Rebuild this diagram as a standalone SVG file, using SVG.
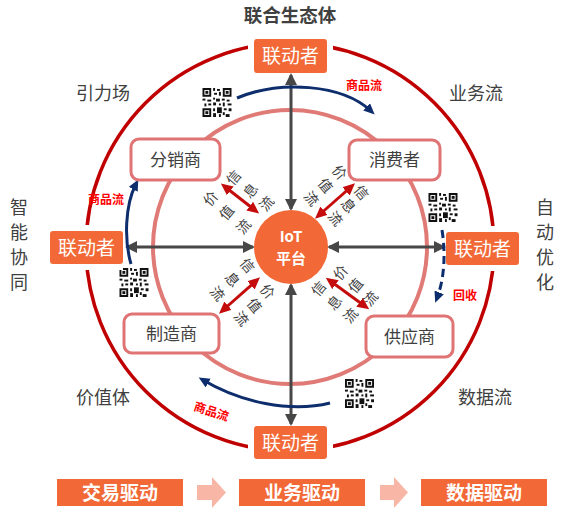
<svg xmlns="http://www.w3.org/2000/svg" width="562" height="513" viewBox="0 0 562 513">
<defs>
<style>
.cjk{font-family:"Noto Sans CJK SC","Noto Sans",sans-serif}
.lbl{font-family:"Noto Sans CJK SC","Noto Sans",sans-serif;font-size:18px;fill:#404040}
.lk rect.bg{fill:#F26836;rx:3}
.lk text{font-family:"Noto Sans CJK SC",sans-serif;font-size:19px;fill:#fff;text-anchor:middle}
.nd rect{fill:#fff;stroke:#E07474;stroke-width:3}
.nd text{font-family:"Noto Sans CJK SC",sans-serif;font-size:17px;fill:#404040;text-anchor:middle}
.flow{font-family:"Noto Sans CJK SC",sans-serif;font-size:14px;fill:#404040;text-anchor:middle;dominant-baseline:central}
.red{font-family:"Noto Sans CJK SC",sans-serif;font-size:12px;font-weight:bold;fill:#FF0000}
.gray{stroke:#474747;stroke-width:3;fill:none;marker-start:url(#ga);marker-end:url(#ga)}
.navy{stroke:#0D2D6C;stroke-width:3;fill:none;marker-end:url(#na)}
.dred{stroke:#C40C0C;stroke-width:3;fill:none;marker-start:url(#ra);marker-end:url(#ra)}
.bt rect{fill:#F26836}
.bt text{font-family:"Noto Sans CJK SC",sans-serif;font-size:19px;font-weight:bold;fill:#fff;text-anchor:middle}
</style>
<marker id="ga" markerUnits="userSpaceOnUse" markerWidth="14" markerHeight="14" refX="10" refY="6" orient="auto-start-reverse"><path d="M0,0 L12,6 L0,12 Z" fill="#474747"/></marker>
<marker id="na" markerUnits="userSpaceOnUse" markerWidth="14" markerHeight="14" refX="6" refY="5" orient="auto"><path d="M0,0 L11,5 L0,10 Z" fill="#0D2D6C"/></marker>
<marker id="ra" markerUnits="userSpaceOnUse" markerWidth="14" markerHeight="14" refX="8" refY="5.5" orient="auto-start-reverse"><path d="M0,0 L12,5.5 L0,11 Z" fill="#C40C0C"/></marker>
<symbol id="qr" viewBox="0 0 30 30">
<rect width="30" height="30" fill="#fff"/>
<g fill="#111">
<path d="M0,0h9v9h-9z M2,2v5h5v-5z" fill-rule="evenodd"/><rect x="3" y="3" width="3" height="3"/>
<path d="M21,0h9v9h-9z M23,2v5h5v-5z" fill-rule="evenodd"/><rect x="24" y="3" width="3" height="3"/>
<path d="M0,21h9v9h-9z M2,23v5h5v-5z" fill-rule="evenodd"/><rect x="3" y="24" width="3" height="3"/>
<rect x="11" y="0" width="2" height="3"/><rect x="15" y="1" width="3" height="2"/><rect x="12" y="5" width="3" height="2"/><rect x="17" y="4" width="2" height="4"/>
<rect x="0" y="11" width="3" height="2"/><rect x="5" y="12" width="4" height="2"/><rect x="2" y="16" width="2" height="3"/><rect x="6" y="16" width="3" height="2"/>
<rect x="11" y="10" width="2" height="2"/><rect x="14" y="11" width="4" height="3"/><rect x="20" y="11" width="3" height="2"/><rect x="25" y="12" width="3" height="2"/>
<rect x="11" y="15" width="3" height="3"/><rect x="17" y="16" width="2" height="2"/><rect x="21" y="15" width="2" height="4"/><rect x="26" y="16" width="4" height="2"/>
<rect x="11" y="21" width="2" height="3"/><rect x="15" y="20" width="5" height="6"/><rect x="22" y="21" width="3" height="2"/><rect x="27" y="21" width="3" height="3"/>
<rect x="11" y="26" width="3" height="4"/><rect x="21" y="25" width="2" height="3"/><rect x="24" y="27" width="4" height="3"/><rect x="17" y="27" width="2" height="3"/>
</g>
</symbol>
</defs>
<rect width="562" height="513" fill="#fff"/>

<!-- circles -->
<circle cx="290" cy="247" r="204" fill="none" stroke="#C00000" stroke-width="3.5"/>
<circle cx="290" cy="247" r="137" fill="none" stroke="#E07A76" stroke-width="4"/>

<!-- outer labels -->
<text x="290" y="22" class="cjk" font-size="18.5" font-weight="bold" fill="#404040" text-anchor="middle">联合生态体</text>
<text x="103" y="100" class="lbl" text-anchor="middle">引力场</text>
<text x="476" y="100" class="lbl" text-anchor="middle">业务流</text>
<text x="103" y="404" class="lbl" text-anchor="middle">价值体</text>
<text x="485" y="404" class="lbl" text-anchor="middle">数据流</text>
<g class="lbl" text-anchor="middle" font-size="17">
<text x="19" y="214">智</text><text x="19" y="239">能</text><text x="19" y="264">协</text><text x="19" y="289">同</text>
<text x="545" y="214">自</text><text x="545" y="239">动</text><text x="545" y="264">优</text><text x="545" y="289">化</text>
</g>

<!-- connectors -->
<g id="connectors">
<line class="gray" x1="291" y1="75" x2="291" y2="209"/>
<line class="gray" x1="291" y1="285" x2="291" y2="424"/>
<line class="gray" x1="127" y1="247" x2="253" y2="247"/>
<line class="gray" x1="329" y1="247" x2="444" y2="247"/>
<path class="navy" d="M237,98 C280,80 342,84 371,111"/>
<path class="navy" d="M131,264 C124,240 125,205 136,184"/>
<path class="navy" d="M442,230 C446,255 444,280 437,298" stroke-dasharray="8,5"/>
<path class="navy" d="M330,403 C290,413 240,402 203,380"/>
<line class="dred" x1="224" y1="186" x2="256" y2="211"/>
<line class="dred" x1="318" y1="216" x2="352" y2="186"/>
<line class="dred" x1="257" y1="280" x2="222" y2="311"/>
<line class="dred" x1="329" y1="280" x2="366" y2="307"/>
</g>

<!-- flow labels -->
<g class="flow">
<text transform="translate(233,177) rotate(-50)">信</text>
<text transform="translate(250,190) rotate(-50)">息</text>
<text transform="translate(266,203) rotate(-50)">流</text>
<text transform="translate(210,198) rotate(-50)">价</text>
<text transform="translate(226,212) rotate(-50)">值</text>
<text transform="translate(243,226) rotate(-50)">流</text>

<text transform="translate(340,172) rotate(50)">价</text>
<text transform="translate(326,185) rotate(50)">值</text>
<text transform="translate(312,198) rotate(50)">流</text>
<text transform="translate(362,192) rotate(50)">信</text>
<text transform="translate(349,205) rotate(50)">息</text>
<text transform="translate(336,218) rotate(50)">流</text>

<text transform="translate(248,265) rotate(50)">信</text>
<text transform="translate(233,279) rotate(50)">息</text>
<text transform="translate(218,293) rotate(50)">流</text>
<text transform="translate(268,291) rotate(50)">价</text>
<text transform="translate(255,305) rotate(50)">值</text>
<text transform="translate(242,318) rotate(50)">流</text>

<text transform="translate(340,272) rotate(-50)">价</text>
<text transform="translate(355,285) rotate(-50)">值</text>
<text transform="translate(370,298) rotate(-50)">流</text>
<text transform="translate(318,288) rotate(-50)">信</text>
<text transform="translate(334,302) rotate(-50)">息</text>
<text transform="translate(350,315) rotate(-50)">流</text>
</g>

<!-- red labels -->
<text class="red" x="346" y="90">商品流</text>
<text class="red" x="88" y="204">商品流</text>
<text class="red" transform="translate(193,410) rotate(18)">商品流</text>
<text class="red" x="453" y="300">回收</text>

<!-- QR codes -->
<use href="#qr" x="202" y="88" width="30" height="29"/>
<use href="#qr" x="428" y="193" width="30" height="29"/>
<use href="#qr" x="119" y="268" width="30" height="29"/>
<use href="#qr" x="344" y="379" width="31" height="29"/>

<!-- IoT -->
<g id="iot">
<circle cx="291" cy="247" r="37" fill="#F26836"/>
<text x="291" y="242" class="cjk" font-size="15" font-weight="bold" fill="#fff" text-anchor="middle">IoT</text>
<text x="291" y="264" class="cjk" font-size="15" font-weight="bold" fill="#fff" text-anchor="middle">平台</text>
</g>

<!-- linker nodes -->
<g id="lk-top" class="lk"><rect x="248" y="39" width="85" height="34" fill="#fff"/><rect class="bg" x="254" y="39" width="73" height="34"/><text x="290.5" y="63">联动者</text></g>
<g id="lk-bottom" class="lk"><rect x="248" y="426" width="85" height="33" fill="#fff"/><rect class="bg" x="254" y="426" width="73" height="33"/><text x="290.5" y="449.5">联动者</text></g>
<g id="lk-left" class="lk"><rect x="50" y="225" width="73" height="45" fill="#fff"/><rect class="bg" x="50" y="231" width="73" height="33"/><text x="86.5" y="254.5">联动者</text></g>
<g id="lk-right" class="lk"><rect x="446" y="226" width="73" height="45" fill="#fff"/><rect class="bg" x="446" y="232" width="73" height="33"/><text x="482.5" y="255.5">联动者</text></g>

<!-- partner nodes -->
<g id="n-fenxiao" class="nd"><rect x="131" y="139" width="89" height="41" rx="8"/><text x="175.5" y="165.5">分销商</text></g>
<g id="n-xiaofei" class="nd"><rect x="349" y="140" width="91" height="40" rx="8"/><text x="394.5" y="166">消费者</text></g>
<g id="n-zhizao" class="nd"><rect x="124" y="314" width="95" height="39" rx="8"/><text x="171.5" y="339.5">制造商</text></g>
<g id="n-gongying" class="nd"><rect x="366" y="316" width="87" height="41" rx="8"/><text x="409.5" y="342.5">供应商</text></g>

<!-- bottom bar -->
<g id="b1" class="bt"><rect x="57" y="479" width="126" height="27"/><text x="120" y="499.5">交易驱动</text></g>
<path d="M197,485 H212 V477 L226,492.5 L212,508 V500 H197 Z" fill="#F8B6A6"/>
<g id="b2" class="bt"><rect x="239" y="479" width="126" height="27"/><text x="302" y="499.5">业务驱动</text></g>
<path d="M380,485 H394 V477 L408,492.5 L394,508 V500 H380 Z" fill="#F8B6A6"/>
<g id="b3" class="bt"><rect x="421" y="479" width="126" height="27"/><text x="484" y="499.5">数据驱动</text></g>
</svg>
